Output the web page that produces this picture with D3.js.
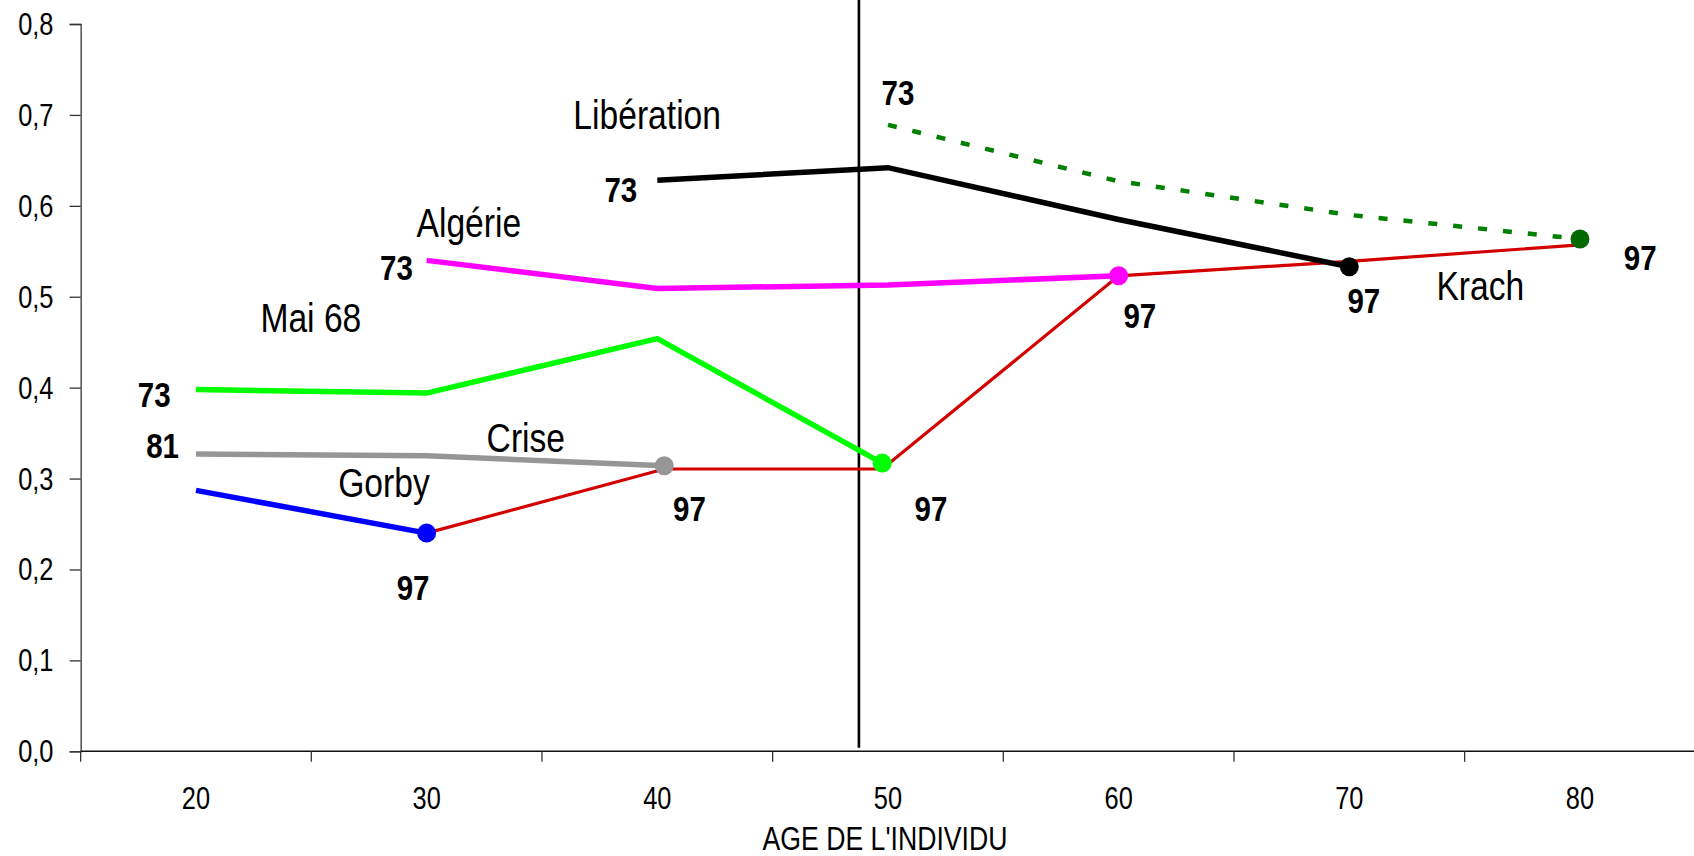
<!DOCTYPE html>
<html>
<head>
<meta charset="utf-8">
<script src="https://cdn.jsdelivr.net/npm/d3@7"></script>
<style>
  html, body { margin: 0; padding: 0; background: #fff; }
  svg { display: block; font-family: "Liberation Sans", Arial, sans-serif; }
</style>
</head>
<body>
<svg id="chart" width="1694" height="856"></svg>
<script>
// categories on the x axis
const ageLabels = [20, 30, 40, 50, 60, 70, 80];
const yTickValues = [0, 0.1, 0.2, 0.3, 0.4, 0.5, 0.6, 0.7, 0.8];

// one line per generation
const mai68Ages = [20, 30, 40, 49.75];
const mai68Vals = [0.398, 0.394, 0.454, 0.317];
const criseAges = [20, 30, 40.3];
const criseVals = [0.327, 0.325, 0.314];
const gorbyAges = [20, 30];
const gorbyVals = [0.287, 0.240];
const algerieAges = [30, 40, 50, 60];
const algerieVals = [0.540, 0.509, 0.513, 0.523];
const liberationAges = [40, 50, 60, 70];
const liberationVals = [0.628, 0.642, 0.585, 0.533];
const krachAges = [50, 60, 70, 80];
const krachVals = [0.689, 0.627, 0.590, 0.5635];

// 1997 survey line linking the end points
const y97Ages = [30, 40.3, 49.75, 60, 70, 80];
const y97Vals = [0.240, 0.3105, 0.3105, 0.523, 0.539, 0.557];

// vertical cut
const cutoffAge = 48.74;

// names of the generations (age, value of the label)
const nameTexts = ["Libération", "Algérie", "Mai 68", "Crise", "Gorby", "Krach"];
const nameAges = [39.56, 31.83, 24.98, 34.30, 28.15, 75.68];
const nameVals = [0.684, 0.566, 0.4616, 0.3289, 0.2801, 0.4964];

// survey years
const yearTexts = ["73", "73", "73", "73", "81", "97", "97", "97", "97", "97", "97"];
const yearAges = [50.43, 38.42, 28.69, 18.19, 18.55, 29.41, 41.39, 51.86, 60.92, 70.63, 82.61];
const yearVals = [0.7109, 0.6046, 0.5184, 0.379, 0.3223, 0.1664, 0.2537, 0.2537, 0.4656, 0.4825, 0.5294];

const svg = d3.select('#chart');
const narrow = 0.82; // arial narrow look

const x = d3.scaleLinear()
  .domain([15, 85])
  .range([80.65, 1695.3]);

const y = d3.scaleLinear()
  .domain([0, 0.8])
  .range([751.3, 24]);

const comma = d => d3.format('.1f')(d).replace('.', ',');

// squeezed text at px, py
function addText(parent, px, py, str, size, anchor) {
  return parent.append('text')
    .attr('transform', 'translate(' + px + ',' + py + ') scale(' + narrow + ',1)')
    .attr('text-anchor', anchor || 'middle')
    .attr('font-size', size)
    .attr('fill', '#000')
    .text(str);
}

// y axis
const yAxis = svg.append('g')
  .attr('transform', 'translate(' + x(15) + ',0)')
  .call(d3.axisLeft(y).tickValues(yTickValues).tickFormat('').tickSize(11));
yAxis.select('.domain').attr('stroke', '#333').attr('stroke-width', 1.3);
yAxis.selectAll('.tick line').attr('stroke', '#333').attr('stroke-width', 1.3);
yTickValues.forEach(function (v) {
  addText(svg, 53.5, y(v) + 11, comma(v), 31, 'end');
});

// x axis : ticks between the categories, labels on them
const xAxis = svg.append('g')
  .attr('transform', 'translate(0,' + y(0) + ')');
xAxis.append('line')
  .attr('x1', x(15))
  .attr('x2', x(85))
  .attr('stroke', '#111')
  .attr('stroke-width', 1.5);
xAxis.selectAll('line.tk')
  .data(ageLabels.map(a => a - 5).concat([85]))
  .enter().append('line')
  .attr('class', 'tk')
  .attr('x1', d => x(d))
  .attr('x2', d => x(d))
  .attr('y1', 0)
  .attr('y2', 10.5)
  .attr('stroke', '#333')
  .attr('stroke-width', 1.3);
ageLabels.forEach(function (a) {
  addText(xAxis, x(a), 58, a, 31);
});

addText(svg, 885, 850, "AGE DE L'INDIVIDU", 32.5);

// vertical line
svg.append('line')
  .attr('x1', x(cutoffAge))
  .attr('x2', x(cutoffAge))
  .attr('y1', 0)
  .attr('y2', y(0) - 3.6)
  .attr('stroke', '#000')
  .attr('stroke-width', 2.6);

const line = d3.line()
  .x(d => x(d[0]))
  .y(d => y(d[1]));

const series = [
  { ages: y97Ages, vals: y97Vals, color: '#d40000', width: 3.2, dash: null, marker: false },
  { ages: gorbyAges, vals: gorbyVals, color: '#0000ff', width: 5.5, dash: null, marker: true },
  { ages: criseAges, vals: criseVals, color: '#969696', width: 5.5, dash: null, marker: true },
  { ages: mai68Ages, vals: mai68Vals, color: '#00ff00', width: 5.5, dash: null, marker: true },
  { ages: algerieAges, vals: algerieVals, color: '#ff00ff', width: 5.5, dash: null, marker: true },
  { ages: liberationAges, vals: liberationVals, color: '#000000', width: 5.5, dash: null, marker: true },
  { ages: krachAges, vals: krachVals, color: '#008000', width: 4.5, dash: '9,16', marker: true }
];

series.forEach(function (s) {
  const pts = s.ages.map((a, i) => [a, s.vals[i]]);
  svg.append('path')
    .datum(pts)
    .attr('d', line)
    .attr('fill', 'none')
    .attr('stroke', s.color)
    .attr('stroke-width', s.width)
    .attr('stroke-dasharray', s.dash);
});

// end markers, drawn on top of the red line
series.filter(s => s.marker).forEach(function (s) {
  const last = s.ages.length - 1;
  svg.append('circle')
    .attr('cx', x(s.ages[last]))
    .attr('cy', y(s.vals[last]))
    .attr('r', 9.5)
    .attr('fill', s.color == '#008000' ? '#006a00' : s.color);
});

nameTexts.forEach(function (t, i) {
  addText(svg, x(nameAges[i]), y(nameVals[i]), t, 41);
});

yearTexts.forEach(function (t, i) {
  addText(svg, x(yearAges[i]), y(yearVals[i]), t, 36)
    .attr('font-weight', 'bold');
});
</script>
</body>
</html>
